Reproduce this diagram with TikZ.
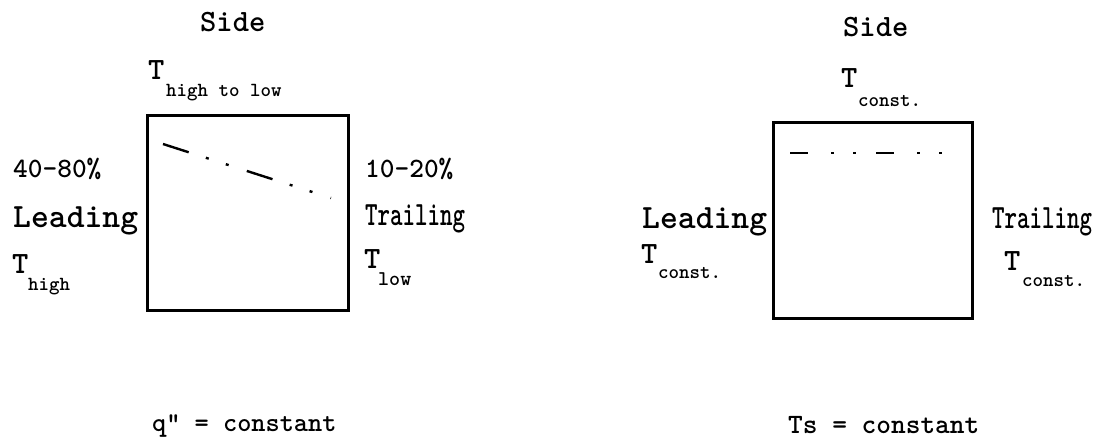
\documentclass[tikz,border=0pt]{standalone}
\usepackage{fontspec}
\usepackage{graphicx}
\begin{document}
\begin{tikzpicture}[x=1pt,y=-1pt,
  lbl/.style={anchor=base west,inner sep=0pt,font=\ttfamily\bfseries\fontsize{#1}{#1}\selectfont},
  panel/.style={draw,line width=3pt,inner sep=0pt,anchor=north west},
  profile/.style={line width=2.4pt}
]
\useasboundingbox (0,0) rectangle (1100,441);
% ---------- left diagram ----------
\node[panel,minimum width=201pt,minimum height=195pt] (boxL) at (146,114) {};
\node[lbl=31] (sideL) at (200,32) {Side};
\node[lbl=31] (tTopL) at (148,80) {T};
\node[lbl=20] (tTopLs) at (166,97) {high to low};
\node[lbl=28] (pctL) at (13,177) {40-80\%};
\node[lbl=34] (leadL) at (13,227) {Leading};
\node[lbl=31] (tHigh) at (12,273) {T};
\node[lbl=20] (tHighs) at (28,290) {high};
\node[lbl=28] (pctR) at (365,177) {10-20\%};
\node[lbl=34] (trailL) at (365,225) {\scalebox{0.70}[1]{Trailing}};
\node[lbl=31] (tLow) at (364,268) {T};
\node[lbl=21] (tLows) at (378,285) {low};
\node[lbl=27] (eqL) at (152,431) {q\char34{} = constant};
\coordinate (pL1) at (163,144);
\coordinate (pL2) at (331,198);
\draw[profile,dash pattern=on 27pt off 18pt on 3pt off 18pt on 3pt off 19pt] (pL1) -- (pL2);
% ---------- right diagram ----------
\node[panel,minimum width=199pt,minimum height=196pt] (boxR) at (772,121) {};
\node[lbl=31] (sideR) at (843,37) {Side};
\node[lbl=31] (tTopR) at (841,88) {T};
\node[lbl=20] (tTopRs) at (858,107) {const.};
\node[lbl=34] (leadR) at (642,228) {Leading};
\node[lbl=31] (tLeft) at (641,263) {T};
\node[lbl=20] (tLefts) at (658,278) {const.};
\node[lbl=34] (trailR) at (992,228) {\scalebox{0.70}[1]{Trailing}};
\node[lbl=31] (tRight) at (1004,270) {T};
\node[lbl=20] (tRights) at (1022,286) {const.};
\node[lbl=28] (eqR) at (788,433) {Ts = constant};
\coordinate (pR1) at (790,153);
\coordinate (pR2) at (945,153);
\draw[profile,dash pattern=on 18pt off 23pt on 3pt off 19pt on 3pt off 20pt] (pR1) -- (pR2);
\end{tikzpicture}
\end{document}
